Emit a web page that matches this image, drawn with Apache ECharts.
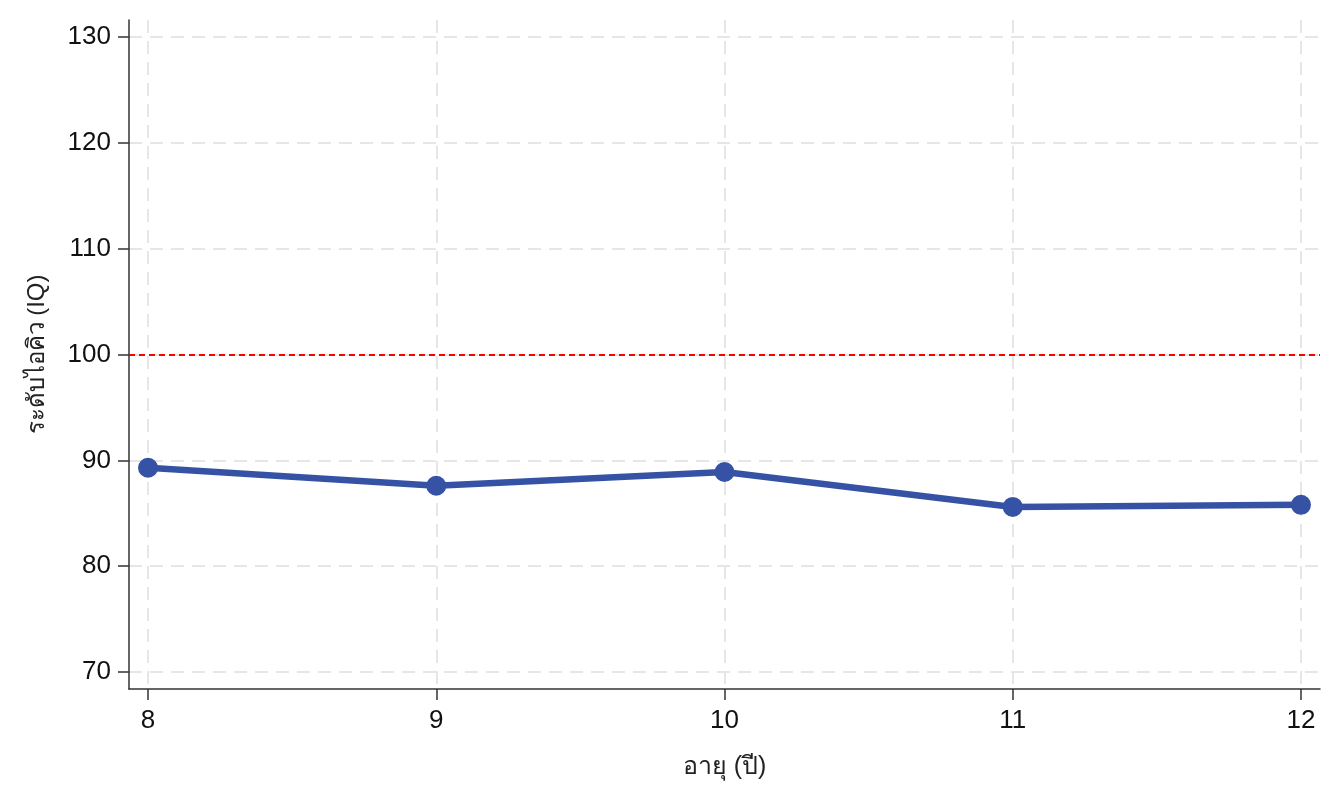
<!DOCTYPE html>
<html>
<head>
<meta charset="utf-8">
<script src="https://cdn.jsdelivr.net/npm/echarts@6/dist/echarts.min.js"></script>
<style>html,body{margin:0;padding:0;background:#fff;}#c{width:1334px;height:801px;}</style>
</head>
<body>
<div id="c"></div>
<script>
const ages = [8, 9, 10, 11, 12];
const iq = [89.3, 87.6, 88.9, 85.6, 85.8];
const xTicks = [8, 9, 10, 11, 12];
const yTicks = [70, 80, 90, 100, 110, 120, 130];
const refValue = 100;
const xTitle = 'อายุ (ปี)';
const yTitle = 'ระดับไอคิว (IQ)';

const chart = echarts.init(document.getElementById('c'));
const font = '"Liberation Sans", Arial, "Noto Sans", sans-serif';
chart.setOption({
  animation: false,
  grid: {left: 129, right: 14, top: 20, bottom: 112, containLabel: false},
  xAxis: {
    type: 'value', min: 7.934, max: 12.066,
    name: xTitle, nameLocation: 'middle', nameGap: 66,
    nameTextStyle: {fontSize: 25, color: '#222', fontFamily: font},
    axisLine: {show: true, lineStyle: {color: '#333', width: 1.5}},
    axisTick: {show: true, length: 11, customValues: xTicks, lineStyle: {color: '#333', width: 1.5}},
    axisLabel: {customValues: xTicks, fontSize: 26, color: '#111', margin: 19, fontFamily: font},
    splitLine: {show: true, lineStyle: {color: '#e6e6e6', width: 2, type: [13, 8]}}
  },
  yAxis: {
    type: 'value', min: 68.4, max: 131.6,
    name: yTitle, nameLocation: 'middle', nameGap: 80, nameRotate: 90,
    nameTextStyle: {fontSize: 24, color: '#222', fontFamily: font},
    axisLine: {show: true, lineStyle: {color: '#333', width: 1.5}},
    axisTick: {show: true, length: 11, customValues: yTicks, lineStyle: {color: '#333', width: 1.5}},
    axisLabel: {customValues: yTicks, fontSize: 26, color: '#111', margin: 18, fontFamily: font},
    splitLine: {show: true, lineStyle: {color: '#e6e6e6', width: 2, type: [13, 8]}}
  },
  series: [{
    type: 'line',
    data: ages.map((a, i) => [a, iq[i]]),
    symbol: 'circle', symbolSize: 20,
    lineStyle: {color: '#3652a5', width: 6.5},
    itemStyle: {color: '#3652a5'},
    markLine: {
      silent: true, symbol: 'none', label: {show: false},
      lineStyle: {color: '#ff0000', width: 2, type: [6, 4]},
      data: [{yAxis: refValue}]
    }
  }]
});
</script>
</body>
</html>
